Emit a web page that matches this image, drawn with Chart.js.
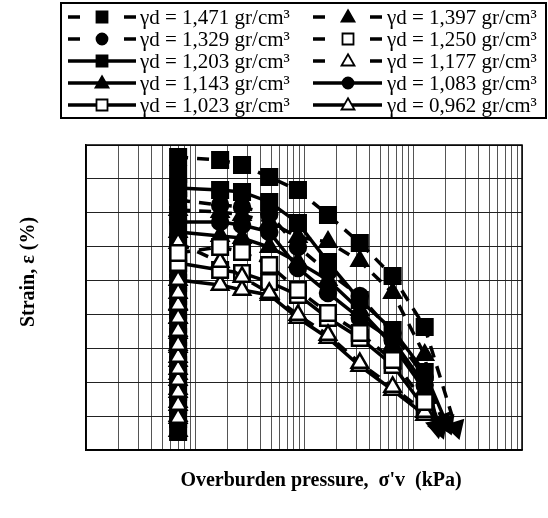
<!DOCTYPE html>
<html>
<head>
<meta charset="utf-8">
<script src="https://cdn.jsdelivr.net/npm/chart.js@4.4.0/dist/chart.umd.min.js"></script>
<style>
  html, body { margin: 0; padding: 0; background: #fff; }
  #wrap { width: 548px; height: 518px; }
</style>
</head>
<body>
<div id="wrap"><canvas id="grafik" width="548" height="518"></canvas></div>
<script>
// legend labels (dry density)
var labels = [
  "γd = 1,471 gr/cm³", "γd = 1,397 gr/cm³",
  "γd = 1,329 gr/cm³", "γd = 1,250 gr/cm³",
  "γd = 1,203 gr/cm³", "γd = 1,177 gr/cm³",
  "γd = 1,143 gr/cm³", "γd = 1,083 gr/cm³",
  "γd = 1,023 gr/cm³", "γd = 0,962 gr/cm³"
];

// overburden pressure (kPa) and strain (%)
var p1471 = [7, 7, 7, 7, 7, 7, 7, 7, 7, 7, 7, 7, 7, 7, 7, 7, 7, 7, 7, 7, 7,
             17, 27, 48, 88, 166, 325, 650, 1280, 2470];
var e1471 = [16.94, 16.17, 15.34, 14.58, 13.75, 12.98, 12.16, 11.33, 10.56, 9.74, 8.91,
             8.14, 7.32, 6.55, 5.72, 4.90, 4.13, 3.30, 2.54, 1.71, 0.71,
             0.89, 1.18, 1.89, 2.66, 4.13, 5.78, 7.73, 10.74, 16.70];

var p1397 = [7, 17, 27, 48, 88, 166, 325, 650, 1280, 1652];
var e1397 = [3.84, 3.95, 4.13, 4.54, 5.43, 5.72, 6.85, 8.73, 12.39, 16.64];

var p1329 = [7, 17, 27, 48, 88, 166, 325, 650, 1280, 1877];
var e1329 = [3.25, 3.54, 3.66, 4.07, 6.02, 7.50, 8.91, 11.10, 13.69, 16.29];

var p1250 = [7, 17, 27, 48, 88, 166, 325, 650, 1280];
var e1250 = [6.37, 6.02, 6.31, 7.08, 8.56, 9.91, 11.10, 12.69, 15.17];

var p1203 = [7, 17, 27, 48, 88, 166, 325, 650, 1280, 2044];
var e1203 = [2.54, 2.66, 2.77, 3.36, 4.60, 6.91, 9.15, 10.92, 13.40, 16.47];

var p1177 = [7, 17, 27, 48, 88, 166, 325, 650, 1280];
var e1177 = [5.78, 6.91, 7.79, 8.73, 10.03, 11.21, 12.87, 14.28, 15.76];

var p1143 = [7, 7, 7, 7, 7, 7, 7, 7, 7, 7, 7, 17, 27, 48, 88, 166, 325, 650, 1280, 1746];
var e1143 = [16.88, 15.99, 15.17, 14.40, 13.51, 12.75, 11.92, 11.10, 10.21, 9.38, 5.13,
             5.37, 5.49, 6.02, 6.91, 7.97, 9.74, 11.80, 14.46, 16.70];

var p1083 = [7, 17, 27, 48, 88, 166, 325, 650, 1280, 1746];
var e1083 = [4.54, 4.54, 4.72, 5.13, 7.26, 8.73, 10.21, 11.51, 14.16, 16.53];

var p1023 = [7, 17, 27, 48, 88, 166, 325, 650, 1280];
var e1023 = [6.96, 7.38, 7.55, 8.09, 8.85, 10.21, 11.39, 12.98, 15.52];

var p0962 = [7, 7, 7, 7, 7, 7, 7, 7, 7, 7, 7, 7, 17, 27, 48, 88, 166, 325, 650, 1280];
var e0962 = [16.11, 15.34, 14.58, 13.87, 13.22, 12.51, 11.80, 10.98, 10.21, 9.44, 8.73, 7.97,
             8.26, 8.56, 8.85, 10.21, 11.39, 13.04, 14.46, 15.93];

// axis ranges
var xMin = 1, xMax = 10000;
var yMin = 0, yMax = 18, yStep = 2;

function toPoints(xs, ys) {
  return xs.map(function (x, i) { return { x: x, y: ys[i] }; });
}

// marker: rect / circle / triangle, filled or open, dashed or solid line
function serija(i, xs, ys, marker, filled, dashed, arrow) {
  var r = marker === "rect" ? 11 : (marker === "circle" ? 8 : 9.5);
  return {
    label: labels[i],
    data: toPoints(xs, ys),
    marker: marker,
    filled: filled,
    dashed: dashed,
    arrow: arrow,
    order: filled ? 0 : -1,
    borderColor: "#000",
    borderWidth: 3.5,
    borderDash: dashed ? [12, 9] : [],
    tension: 0,
    fill: false,
    pointStyle: function (c) {
      return isArrow(c) ? "triangle" : marker;
    },
    pointRadius: function (c) { return isArrow(c) ? 10 : r; },
    pointRotation: arrowRotation,
    pointBackgroundColor: function (c) {
      return isArrow(c) || filled ? "#000" : "#fff";
    },
    pointBorderColor: "#000",
    pointBorderWidth: 2.5
  };
}

function isArrow(c) {
  return c.dataset.arrow && c.dataIndex === c.dataset.data.length - 1;
}

function arrowRotation(c) {
  if (!isArrow(c)) return 0;
  var sx = c.chart.scales.x, sy = c.chart.scales.y;
  var d = c.dataset.data;
  var a = d[c.dataIndex - 1], b = d[c.dataIndex];
  var dx = sx.getPixelForValue(b.x) - sx.getPixelForValue(a.x);
  var dy = sy.getPixelForValue(b.y) - sy.getPixelForValue(a.y);
  return Math.atan2(dy, dx) * 180 / Math.PI + 90;
}

var datasets = [
  serija(0, p1471, e1471, "rect", true, true, true),
  serija(1, p1397, e1397, "triangle", true, true, true),
  serija(2, p1329, e1329, "circle", true, true, true),
  serija(3, p1250, e1250, "rect", false, true, false),
  serija(4, p1203, e1203, "rect", true, false, true),
  serija(5, p1177, e1177, "triangle", false, true, false),
  serija(6, p1143, e1143, "triangle", true, false, true),
  serija(7, p1083, e1083, "circle", true, false, true),
  serija(8, p1023, e1023, "rect", false, false, false),
  serija(9, p0962, e0962, "triangle", false, false, false)
];

function crtajMarker(ctx, marker, filled, x, y, size) {
  ctx.beginPath();
  if (marker === "rect") {
    ctx.rect(x - size / 2, y - size / 2, size, size);
  } else if (marker === "circle") {
    ctx.arc(x, y, size / 2, 0, Math.PI * 2);
  } else {
    var h = size * 0.87;
    ctx.moveTo(x, y - h * 0.6);
    ctx.lineTo(x + size / 2, y + h * 0.4);
    ctx.lineTo(x - size / 2, y + h * 0.4);
    ctx.closePath();
  }
  ctx.fillStyle = filled ? "#000" : "#fff";
  ctx.fill();
  ctx.lineWidth = 1.8;
  ctx.setLineDash([]);
  ctx.strokeStyle = "#000";
  ctx.stroke();
}

var okvir = {
  id: "okvir",
  afterDraw: function (chart) {
    var ctx = chart.ctx;
    var a = chart.chartArea;
    ctx.save();

    // plot frame
    ctx.strokeStyle = "#000";
    ctx.lineWidth = 1.5;
    ctx.strokeRect(a.left, a.top, a.right - a.left, a.bottom - a.top);

    // legend box
    ctx.lineWidth = 2;
    ctx.strokeRect(61, 3, 485, 115);

    ctx.font = '21px "Liberation Serif"';
    ctx.textBaseline = "middle";
    ctx.textAlign = "left";
    chart.data.datasets.forEach(function (ds, i) {
      var col = i % 2;
      var row = Math.floor(i / 2);
      var cy = 17 + row * 22;
      var x0 = col === 0 ? 68 : 313;
      var x1 = col === 0 ? 136 : 382;
      var mx = col === 0 ? 102 : 348;
      var tx = col === 0 ? 140 : 387;

      ctx.strokeStyle = "#000";
      ctx.lineWidth = 3.5;
      ctx.setLineDash([]);
      ctx.beginPath();
      if (ds.dashed) {
        ctx.moveTo(x0, cy); ctx.lineTo(x0 + 12, cy);
        ctx.moveTo(x1 - 12, cy); ctx.lineTo(x1, cy);
      } else {
        ctx.moveTo(x0, cy); ctx.lineTo(x1, cy);
      }
      ctx.stroke();
      crtajMarker(ctx, ds.marker, ds.filled, mx, cy, ds.marker === "triangle" ? 13 : 11);

      ctx.fillStyle = "#000";
      ctx.fillText(ds.label, tx, cy + 1);
    });

    // axis titles
    ctx.font = 'bold 20px "Liberation Serif"';
    ctx.textAlign = "center";
    ctx.fillText("Overburden pressure,  σ'v  (kPa)", 321, 481);
    ctx.translate(29, 272);
    ctx.rotate(-Math.PI / 2);
    ctx.fillText("Strain, ε (%)", 0, 0);
    ctx.restore();
  }
};

var chrt = document.getElementById("grafik").getContext("2d");
var grafik = new Chart(chrt, {
  type: "line",
  data: { datasets: datasets },
  options: {
    responsive: false,
    animation: false,
    layout: { padding: { left: 86, top: 145, right: 26, bottom: 68 } },
    plugins: {
      legend: { display: false },
      tooltip: { enabled: false }
    },
    scales: {
      x: {
        type: "logarithmic",
        min: xMin,
        max: xMax,
        ticks: { display: false },
        grid: { color: "#555", lineWidth: 1, drawTicks: false },
        border: { color: "#000", width: 1.5 },
        afterBuildTicks: function (axis) {
          var t = [];
          for (var e = 0; Math.pow(10, e) < xMax; e++) {
            for (var k = 1; k < 10; k++) t.push({ value: k * Math.pow(10, e) });
          }
          t.push({ value: xMax });
          axis.ticks = t;
        }
      },
      y: {
        min: yMin,
        max: yMax,
        reverse: true,
        ticks: { display: false, stepSize: yStep },
        grid: { color: "#222", lineWidth: 1, drawTicks: false },
        border: { color: "#000", width: 1.5 }
      }
    }
  },
  plugins: [okvir]
});
</script>
</body>
</html>
